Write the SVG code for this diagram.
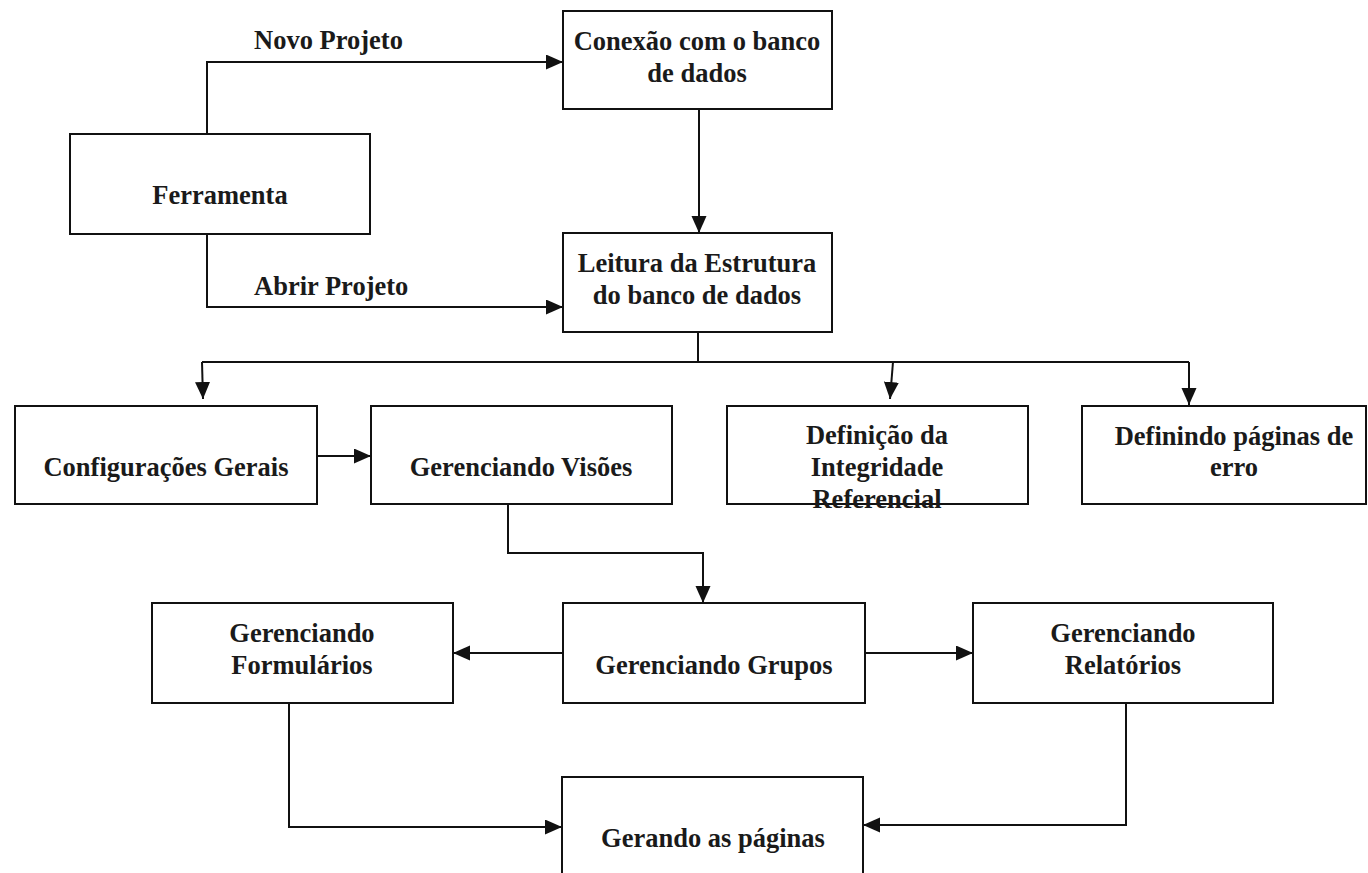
<svg xmlns="http://www.w3.org/2000/svg" width="1368" height="873" viewBox="0 0 1368 873">
<style>
.box{fill:#fff;stroke:#111;stroke-width:2}
.t{font-family:"Liberation Serif","Times New Roman",serif;font-weight:bold;font-size:26.5px;fill:#1a1a1a;text-anchor:middle}
.lbl{font-family:"Liberation Serif","Times New Roman",serif;font-weight:bold;font-size:26.5px;fill:#1a1a1a}
.c{fill:none;stroke:#111;stroke-width:2}
.ca{fill:none;stroke:#111;stroke-width:2;marker-end:url(#ah)}
</style>
<defs>
<marker id="ah" markerUnits="userSpaceOnUse" markerWidth="18" markerHeight="16" refX="17" refY="7.5" orient="auto">
<path d="M0,0 L17,7.5 L0,15 z" fill="#111"/>
</marker>
</defs>
<rect width="1368" height="873" fill="#fff"/>
<g id="connectors">
<path class="ca" d="M207,134 V62 H563"/>
<path class="ca" d="M207,230 V307 H563"/>
<path class="ca" d="M699,109 V233"/>
<path class="c" d="M698,332 V362"/>
<path class="c" d="M202,362 H1189"/>
<path class="ca" d="M202,362 L203,399"/>
<path class="ca" d="M893,362 L890,399"/>
<path class="ca" d="M1189,362 V405"/>
<path class="ca" d="M317,456 H371"/>
<path class="ca" d="M508,505 V553 H703 V603"/>
<path class="ca" d="M563,653 H453"/>
<path class="ca" d="M865,653 H973"/>
<path class="ca" d="M289,703 V827 H562"/>
<path class="ca" d="M1126,703 V825 H863"/>
</g>
<g id="label-novo"><text class="lbl" x="254" y="49">Novo Projeto</text></g>
<g id="label-abrir"><text class="lbl" x="254" y="295">Abrir Projeto</text></g>
<g id="ferramenta"><rect class="box" x="70" y="134" width="300" height="100"/><text class="t" x="220" y="204">Ferramenta</text></g>
<g id="conexao"><rect class="box" x="563" y="11" width="269" height="98"/><text class="t" x="697" y="50">Conexão com o banco</text><text class="t" x="697" y="82">de dados</text></g>
<g id="leitura"><rect class="box" x="563" y="233" width="269" height="99"/><text class="t" x="697" y="272">Leitura da Estrutura</text><text class="t" x="697" y="304">do banco de dados</text></g>
<g id="configuracoes"><rect class="box" x="15" y="406" width="302" height="98"/><text class="t" x="166" y="476">Configurações Gerais</text></g>
<g id="visoes"><rect class="box" x="371" y="406" width="301" height="98"/><text class="t" x="521" y="476">Gerenciando Visões</text></g>
<g id="integridade"><rect class="box" x="727" y="406" width="301" height="98"/><text class="t" x="877" y="444">Definição da</text><text class="t" x="877" y="476">Integridade</text><text class="t" x="877" y="508">Referencial</text></g>
<g id="erro"><rect class="box" x="1082" y="406" width="284" height="98"/><text class="t" x="1234" y="445">Definindo páginas de</text><text class="t" x="1234" y="476">erro</text></g>
<g id="formularios"><rect class="box" x="152" y="603" width="301" height="100"/><text class="t" x="302" y="642">Gerenciando</text><text class="t" x="302" y="674">Formulários</text></g>
<g id="grupos"><rect class="box" x="563" y="603" width="302" height="100"/><text class="t" x="714" y="674">Gerenciando Grupos</text></g>
<g id="relatorios"><rect class="box" x="973" y="603" width="300" height="100"/><text class="t" x="1123" y="642">Gerenciando</text><text class="t" x="1123" y="674">Relatórios</text></g>
<g id="gerando"><rect class="box" x="562" y="777" width="301" height="110"/><text class="t" x="713" y="847">Gerando as páginas</text></g>
</svg>
